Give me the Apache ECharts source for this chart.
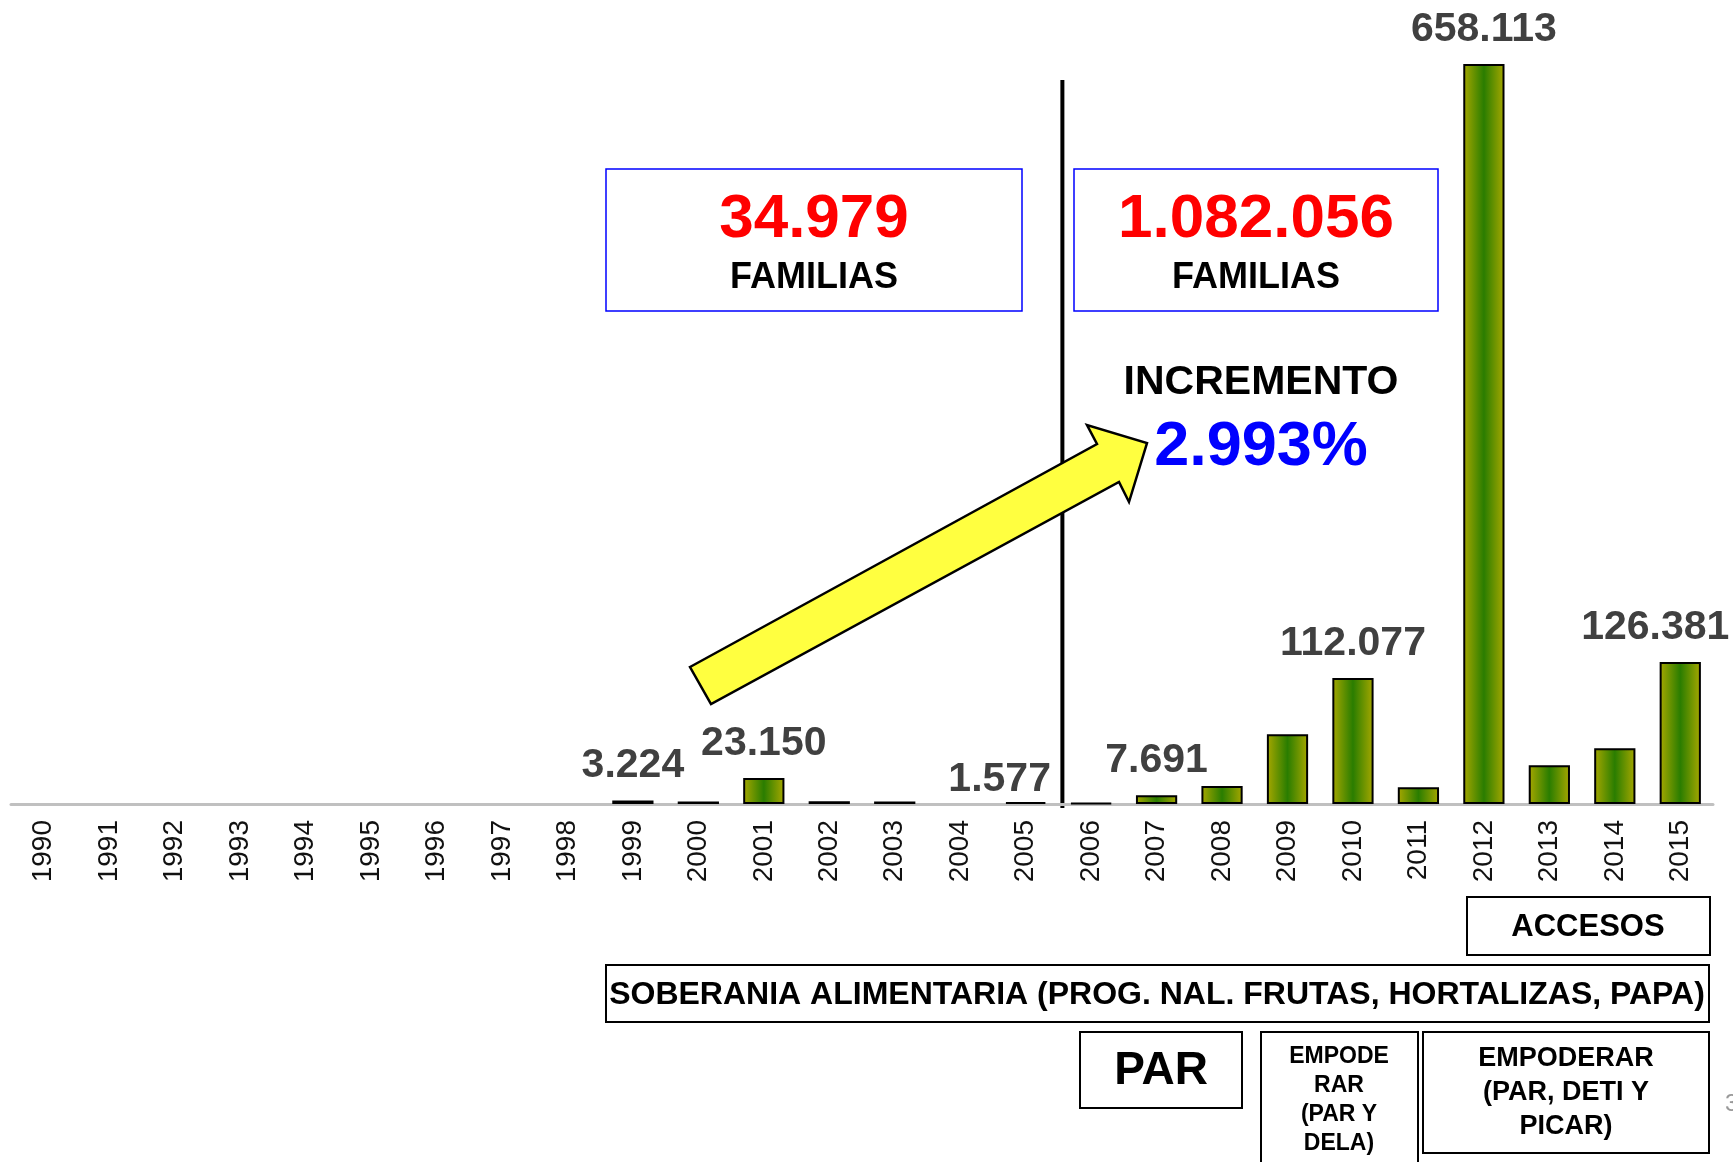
<!DOCTYPE html>
<html>
<head>
<meta charset="utf-8">
<script src="https://cdn.jsdelivr.net/npm/echarts@6/dist/echarts.min.js"></script>
<style>
html, body { margin: 0; padding: 0; background: #fff; }
#chart { width: 1733px; height: 1162px; }
</style>
</head>
<body>
<div id="chart"></div>
<script>
// años y familias atendidas
const years = ["1990", "1991", "1992", "1993", "1994", "1995", "1996", "1997", "1998", "1999",
  "2000", "2001", "2002", "2003", "2004", "2005", "2006", "2007", "2008", "2009",
  "2010", "2011", "2012", "2013", "2014", "2015"];
const familias = [null, null, null, null, null, null, null, null, null, 3224,
  2300, 23150, 2500, 2228, null, 1577, 794, 7691, 16000, 62000,
  112077, 15000, 658113, 34500, 49500, 126381];
// años con etiqueta de valor
const labelYears = ["1999", "2001", "2005", "2007", "2010", "2012", "2015"];
const totalAntes = "34.979";
const totalDespues = "1.082.056";
const incremento = "2.993%";
const FONT = "'Liberation Sans', Arial, sans-serif";

function fmt(v) {
  return String(v).replace(/\B(?=(\d{3})+(?!\d))/g, ".");
}

const labelOffsets = { "2005": [-26, 12], "2015": [-25, 0] };

const barData = familias.map((v, i) => {
  const y = years[i];
  const item = { value: v };
  if (labelYears.indexOf(y) >= 0) {
    item.label = { show: true, offset: labelOffsets[y] || [0, 0] };
  }
  return item;
});

const chart = echarts.init(document.getElementById("chart"));

function box(x, y, w, h, color, lw) {
  return {
    type: "rect",
    shape: { x: x, y: y, width: w, height: h },
    style: { fill: "#fff", stroke: color, lineWidth: lw }
  };
}
function txt(x, y, text, size, color, lh) {
  return {
    type: "text",
    x: x, y: y,
    style: {
      text: text, fill: color || "#000", font: "bold " + size + "px " + FONT,
      textAlign: "center", textVerticalAlign: "middle", lineHeight: lh || size
    }
  };
}

const option = {
  animation: false,
  grid: { left: 11, right: 20, top: 17, bottom: 358 },
  xAxis: {
    type: "category",
    data: years,
    axisLine: { lineStyle: { color: "#c0c0c0", width: 3 } },
    axisTick: { show: false },
    axisLabel: {
      rotate: 90, interval: 0, margin: 16,
      fontSize: 28, color: "#111", fontFamily: FONT
    }
  },
  yAxis: { type: "value", min: 0, max: 700000, show: false, splitLine: { show: false } },
  series: [{
    type: "bar",
    data: barData,
    barWidth: "63%",
    itemStyle: {
      color: new echarts.graphic.LinearGradient(0, 0, 1, 0, [
        { offset: 0, color: "#a8a800" },
        { offset: 0.5, color: "#2a7d00" },
        { offset: 1, color: "#a8a800" }
      ]),
      borderColor: "#000",
      borderWidth: 2
    },
    label: {
      show: false,
      position: "top",
      distance: 14,
      fontSize: 41,
      fontWeight: "bold",
      fontFamily: FONT,
      color: "#404040",
      formatter: p => fmt(p.value)
    }
  }],
  graphic: []
};
chart.setOption(option);

// línea divisoria entre 2005 y 2006
const xa = chart.convertToPixel({ xAxisIndex: 0 }, "2005");
const xb = chart.convertToPixel({ xAxisIndex: 0 }, "2006");
const xSep = (xa + xb) / 2 + 4;

const g = [
  {
    type: "line",
    shape: { x1: xSep, y1: 80, x2: xSep, y2: 808 },
    style: { stroke: "#000", lineWidth: 4 }
  },
  // cuadros de totales
  box(606, 169, 416, 142, "#0000ff", 1.5),
  txt(814, 220, totalAntes, 62, "#ff0000"),
  txt(814, 278, "FAMILIAS", 36, "#000"),
  box(1074, 169, 364, 142, "#0000ff", 1.5),
  txt(1256, 220, totalDespues, 62, "#ff0000"),
  txt(1256, 278, "FAMILIAS", 36, "#000"),
  txt(1261, 383, "INCREMENTO", 41, "#000"),
  txt(1261, 448, incremento, 63, "#0000ff"),
  // flecha
  {
    type: "polygon",
    shape: {
      points: [[690, 667], [1097, 444], [1087, 425], [1147, 443], [1129, 502], [1119, 482], [711, 704]]
    },
    style: { fill: "#ffff40", stroke: "#000", lineWidth: 2.5 }
  },
  // programas
  box(1467, 897, 243, 58, "#000", 2),
  txt(1588, 927, "ACCESOS", 31, "#000"),
  box(606, 965, 1103, 57, "#000", 2),
  txt(1157, 995, "SOBERANIA ALIMENTARIA (PROG. NAL. FRUTAS, HORTALIZAS, PAPA)", 32, "#000"),
  box(1080, 1032, 162, 76, "#000", 2),
  txt(1161, 1071, "PAR", 46, "#000"),
  box(1261, 1032, 157, 140, "#000", 2),
  txt(1339, 1100, "EMPODE\nRAR\n(PAR Y\nDELA)", 23, "#000", 29),
  box(1423, 1032, 286, 121, "#000", 2),
  txt(1566, 1093, "EMPODERAR\n(PAR, DETI Y\nPICAR)", 27, "#000", 34),
  {
    type: "text", x: 1725, y: 1092,
    style: { text: "3", fill: "#999", font: "24px " + FONT }
  }
];
chart.setOption({ graphic: g });
</script>
</body>
</html>
